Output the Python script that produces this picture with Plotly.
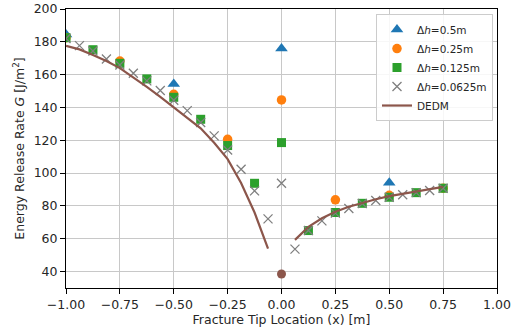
import plotly.graph_objects as go

# Δh = 0.5 m
x_05 = [-1.0, -0.5, 0.0, 0.5]
g_05 = [184.5, 154.3, 176.0, 94.2]

# Δh = 0.25 m
x_025 = [-1.0, -0.75, -0.5, -0.25, 0.0, 0.25, 0.5, 0.75]
g_025 = [182.5, 168.3, 148.0, 120.6, 144.6, 83.7, 86.5, 90.8]

# Δh = 0.125 m
x_0125 = [-1.0, -0.875, -0.75, -0.625, -0.5, -0.375, -0.25, -0.125, 0.0,
          0.125, 0.25, 0.375, 0.5, 0.625, 0.75]
g_0125 = [182.5, 175.2, 166.9, 157.4, 146.2, 132.8, 116.8, 93.8, 118.6,
          65.0, 76.0, 81.6, 85.3, 88.1, 90.8]

# Δh = 0.0625 m
x_00625 = [-1.0, -0.9375, -0.875, -0.8125, -0.75, -0.6875, -0.625, -0.5625,
           -0.5, -0.4375, -0.375, -0.3125, -0.25, -0.1875, -0.125, -0.0625,
           0.0, 0.0625, 0.125, 0.1875, 0.25, 0.3125, 0.375, 0.4375, 0.5,
           0.5625, 0.625, 0.6875, 0.75]
g_00625 = [182.0, 177.7, 174.4, 169.5, 165.9, 160.8, 156.2, 150.3,
           144.4, 138.1, 130.8, 122.7, 114.1, 102.4, 89.2, 72.1,
           93.8, 53.7, 65.0, 70.9, 75.6, 78.4, 81.5, 83.3, 85.3,
           86.8, 88.1, 89.4, 90.8]

# DEDM (two branches)
x_dedm_left = [-1.0, -0.9375, -0.875, -0.8125, -0.75, -0.6875, -0.625, -0.5625,
               -0.5, -0.4375, -0.375, -0.3125, -0.25, -0.1875, -0.125, -0.0625]
g_dedm_left = [177.5, 175.4, 172.0, 168.3, 164.0, 158.5, 152.5, 146.5,
               140.0, 134.0, 127.3, 118.5, 108.5, 94.0, 76.0, 54.0]
x_dedm_right = [0.0625, 0.125, 0.1875, 0.25, 0.3125, 0.375, 0.4375, 0.5,
                0.5625, 0.625, 0.6875, 0.75]
g_dedm_right = [59.3, 67.2, 72.5, 76.5, 79.5, 82.0, 84.1, 86.0,
                87.5, 88.7, 90.1, 91.6]
x_dedm_tip = [0.0]
g_dedm_tip = [38.5]

x_ticks = [-1.0, -0.75, -0.5, -0.25, 0.0, 0.25, 0.5, 0.75, 1.0]
y_ticks = [40, 60, 80, 100, 120, 140, 160, 180, 200]

BLUE, ORANGE, GREEN, GREY, BROWN = "#1f77b4", "#ff7f0e", "#2ca02c", "#7f7f7f", "#8c564b"
FONT = "DejaVu Sans"
TXT = "#262626"

fig = go.Figure()
fig.add_trace(go.Scatter(x=x_05, y=g_05, mode="markers", name="Δ<i>h</i>=0.5m",
                         marker=dict(symbol="triangle-up", size=11, color=BLUE)))
fig.add_trace(go.Scatter(x=x_025, y=g_025, mode="markers", name="Δ<i>h</i>=0.25m",
                         marker=dict(symbol="circle", size=9.5, color=ORANGE)))
fig.add_trace(go.Scatter(x=x_0125, y=g_0125, mode="markers", name="Δ<i>h</i>=0.125m",
                         marker=dict(symbol="square", size=9, color=GREEN)))
fig.add_trace(go.Scatter(x=x_00625, y=g_00625, mode="markers", name="Δ<i>h</i>=0.0625m",
                         marker=dict(symbol="x-thin", size=9, color=GREY,
                                     line=dict(color=GREY, width=1.3))))
fig.add_trace(go.Scatter(x=x_dedm_left, y=g_dedm_left, mode="lines", name="DEDM",
                         line=dict(color=BROWN, width=2.2), legendgroup="dedm"))
fig.add_trace(go.Scatter(x=x_dedm_right, y=g_dedm_right, mode="lines", name="DEDM",
                         line=dict(color=BROWN, width=2.2), legendgroup="dedm",
                         showlegend=False))
fig.add_trace(go.Scatter(x=x_dedm_tip, y=g_dedm_tip, mode="markers", name="DEDM tip",
                         marker=dict(symbol="circle", size=9, color=BROWN),
                         showlegend=False))

axis_common = dict(
    showline=True, linecolor="black", linewidth=1, mirror=True,
    ticks="outside", ticklen=5, tickwidth=1, tickcolor="black",
    showgrid=True, gridcolor="#c8c8c8", gridwidth=1, zeroline=False,
    automargin=False,
    tickfont=dict(family=FONT, size=12.5, color=TXT),
)

fig.update_xaxes(range=[-1.0, 1.0], tickvals=x_ticks, tickformat=".2f",
                 title=dict(text="Fracture Tip Location (x) [m]",
                            font=dict(family=FONT, size=12.5, color=TXT), standoff=4),
                 **axis_common)
fig.update_yaxes(range=[30, 200], tickvals=y_ticks,
                 title=dict(text="Energy Release Rate <i>G</i> [J/m<sup>2</sup>]",
                            font=dict(family=FONT, size=12.5, color=TXT), standoff=6),
                 **axis_common)

fig.update_layout(
    width=513, height=333,
    margin=dict(l=66, r=16, t=9, b=45),
    paper_bgcolor="white", plot_bgcolor="white",
    font=dict(family=FONT, size=12.5, color=TXT),
    legend=dict(x=0.9907, y=0.982, xanchor="right", yanchor="top",
                bgcolor="rgba(255,255,255,0.85)", bordercolor="#cccccc", borderwidth=1,
                font=dict(family=FONT, size=10.5, color=TXT),
                tracegroupgap=0, itemwidth=30),
    showlegend=True,
)

fig.write_html("out.html",
               config={"displayModeBar": False},
               post_script="document.body.style.margin='0';document.body.style.overflow='hidden';")
